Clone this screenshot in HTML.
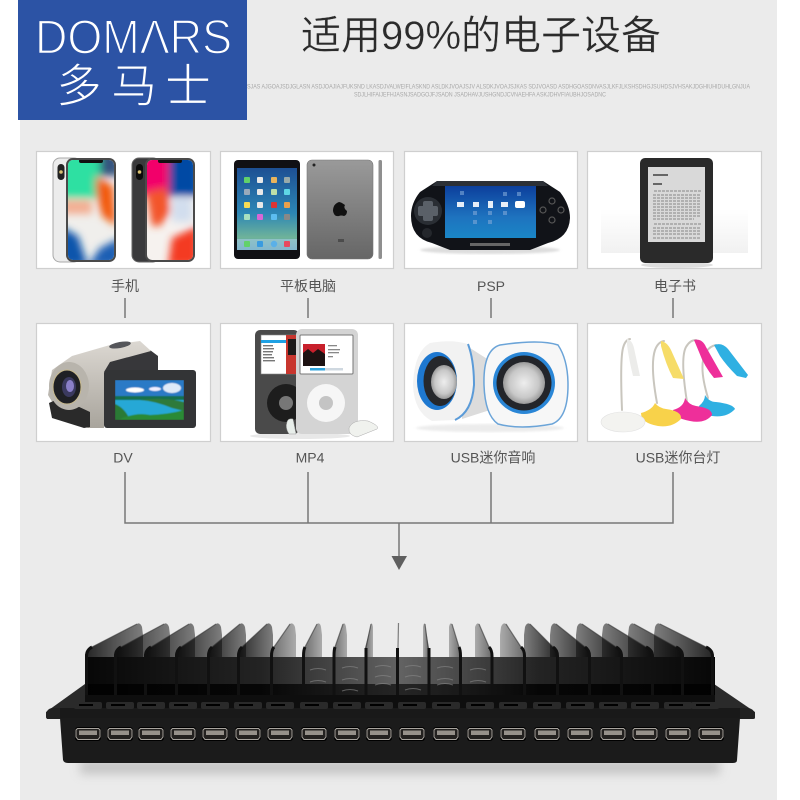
<!DOCTYPE html>
<html><head><meta charset="utf-8"><style>
html,body{margin:0;padding:0;background:#fff}
svg{display:block}
text{font-family:"Liberation Sans","Noto Sans CJK SC",sans-serif}
</style></head><body>
<svg width="800" height="800" viewBox="0 0 800 800" xmlns="http://www.w3.org/2000/svg">
<defs>
<filter id="b3" x="-30%" y="-30%" width="160%" height="160%"><feGaussianBlur stdDeviation="4"/></filter>
<filter id="s4" x="-10%" y="-100%" width="120%" height="300%"><feGaussianBlur stdDeviation="5"/></filter>
<filter id="b1"><feGaussianBlur stdDeviation="1"/></filter>
<filter id="b05"><feGaussianBlur stdDeviation=".5"/></filter>
<linearGradient id="fl" x1="0" y1="0" x2="1" y2="0"><stop offset="0" stop-color="#000" stop-opacity=".85"/><stop offset="1" stop-color="#111" stop-opacity=".5"/></linearGradient>
<linearGradient id="fr" x1="1" y1="0" x2="0" y2="0"><stop offset="0" stop-color="#000" stop-opacity=".85"/><stop offset="1" stop-color="#111" stop-opacity=".5"/></linearGradient>
<linearGradient id="flc" x1="0" y1="0" x2="1" y2="0"><stop offset="0" stop-color="#111" stop-opacity=".6"/><stop offset="1" stop-color="#222" stop-opacity=".32"/></linearGradient>
<linearGradient id="frc" x1="1" y1="0" x2="0" y2="0"><stop offset="0" stop-color="#111" stop-opacity=".6"/><stop offset="1" stop-color="#222" stop-opacity=".32"/></linearGradient>
<linearGradient id="band" x1="0" y1="0" x2="1" y2="0"><stop offset="0" stop-color="#000" stop-opacity=".97"/><stop offset=".28" stop-color="#000" stop-opacity=".85"/><stop offset=".5" stop-color="#222" stop-opacity=".68"/><stop offset=".72" stop-color="#000" stop-opacity=".85"/><stop offset="1" stop-color="#000" stop-opacity=".97"/></linearGradient>
<linearGradient id="gray" x1="0" y1="0" x2="0" y2="1"><stop offset="0" stop-color="#9a9a9a"/><stop offset="1" stop-color="#666"/></linearGradient>
<linearGradient id="blue" x1="0" y1="0" x2="0" y2="1"><stop offset="0" stop-color="#0c3f9c"/><stop offset=".6" stop-color="#1e73bf"/><stop offset="1" stop-color="#1a86c6"/></linearGradient>
<linearGradient id="ipad" x1="0" y1="0" x2="0" y2="1"><stop offset="0" stop-color="#1d4f93"/><stop offset=".55" stop-color="#2c86b5"/><stop offset=".85" stop-color="#6fb39a"/><stop offset="1" stop-color="#3d8db5"/></linearGradient>
<linearGradient id="silver" x1="0" y1="0" x2="0" y2="1"><stop offset="0" stop-color="#dcd8d2"/><stop offset="1" stop-color="#a8a49c"/></linearGradient>
<linearGradient id="kbg" x1="0" y1="0" x2="0" y2="1"><stop offset="0" stop-color="#fff"/><stop offset=".5" stop-color="#fff"/><stop offset="1" stop-color="#f1f1f1"/></linearGradient>
<radialGradient id="cone"><stop offset="0" stop-color="#eee"/><stop offset=".7" stop-color="#c8c8c8"/><stop offset="1" stop-color="#9a9a9a"/></radialGradient>
<clipPath id="s1"><rect x="68" y="160" width="46" height="100" rx="5"/></clipPath>
<clipPath id="s2"><rect x="147" y="160" width="46" height="100" rx="5"/></clipPath>
<clipPath id="dvp"><rect x="115" y="380" width="69" height="40"/></clipPath>
<g id="port">
<rect x="-13" y="-7" width="26" height="14" rx="3" fill="#000"/>
<path d="M-10.500 -5.500H10.500L12 -4V3L10 5.500H-10L-12 3V-4Z" fill="#23211f" stroke="#a8a49e" stroke-width="1"/>
<rect x="-9" y="-3.500" width="18" height="4.500" fill="#96918a"/>
</g>
<g id="notch">
<rect x="-14" y="702" width="28" height="7" rx="2" fill="#2a2a2a"/>
<rect x="-9" y="704" width="14" height="2" fill="#000"/>
</g>
</defs>

<rect width="800" height="800" fill="#fff"/>
<rect x="20" y="0" width="757" height="800" fill="#ebebeb"/>

<!-- logo -->
<rect x="18" y="0" width="229" height="120" fill="#2c53a5"/>
<text x="35" y="53.500" font-size="48.500" fill="#fff" stroke="#2c53a5" stroke-width="1.500" textLength="197" lengthAdjust="spacingAndGlyphs">DOMΛRS</text>
<text y="102" font-size="46" fill="#fff" stroke="#2c53a5" stroke-width="1.100" x="56 111 165">多马士</text>

<!-- title -->
<text x="301" y="49" font-size="40" fill="#2b2b2b" stroke="#ebebeb" stroke-width=".35" textLength="360" lengthAdjust="spacingAndGlyphs">适用99%的电子设备</text>
<text x="247" y="88.500" font-size="6" fill="#a8a8a8" textLength="503" lengthAdjust="spacingAndGlyphs">SJAS AJGOAJSDJGLASN ASDJOAJIAJFUKSND LKASDJVALWEIFLASKND ASLDKJVOAJSJV ALSDKJVOAJSJKAS SDJVOASD ASDHGOASDNVASJLKFJLKSHSDHGJSUHDSJVHSAKJDGHIUHIDUHLGNJUA</text>
<text x="354" y="96.500" font-size="6" fill="#a8a8a8" textLength="252" lengthAdjust="spacingAndGlyphs">SDJLHIFAIJEFHJASNJSADGOJFJSADN JSADHAVJUSHGNDJCVNAEHFA ASKJDHVFIAUBHJOSADNC</text>

<!-- cards -->
<g fill="#fff" stroke="#cfcfcf" stroke-width="1.200">
<rect x="36.500" y="151.500" width="174" height="117"/>
<rect x="220.500" y="151.500" width="173" height="117"/>
<rect x="404.500" y="151.500" width="173" height="117"/>
<rect x="587.500" y="151.500" width="174" height="117"/>
<rect x="36.500" y="323.500" width="174" height="118"/>
<rect x="220.500" y="323.500" width="173" height="118"/>
<rect x="404.500" y="323.500" width="173" height="118"/>
<rect x="587.500" y="323.500" width="174" height="118"/>
</g>

<!-- phones -->
<rect x="53" y="158" width="28" height="104" rx="7" fill="#ececec" stroke="#a8a8a8"/>
<rect x="57.500" y="164" width="7" height="16" rx="3.500" fill="#222"/><circle cx="61" cy="172" r="1.800" fill="#d8c070"/>
<rect x="66" y="158" width="50" height="104" rx="7" fill="#4a4a4a"/>
<g clip-path="url(#s1)"><rect x="68" y="160" width="46" height="100" fill="#f0efec"/>
<g filter="url(#b3)"><rect x="60" y="150" width="40" height="48" fill="#2fe0a2"/><rect x="100" y="150" width="20" height="26" fill="#35557f"/><path d="M96 176L113 186L116 226L102 216L96 192Z" fill="#f25a10"/><path d="M62 200H92V214H62Z" fill="#f3ae92"/><path d="M60 226L78 236L88 266H60Z" fill="#0f55ac"/><path d="M120 238V266H88L100 248Z" fill="#1c5fb4"/></g>
<rect x="79" y="159" width="24" height="4" rx="2" fill="#111"/></g>

<rect x="132" y="158" width="28" height="104" rx="7" fill="#3a3a3c" stroke="#666"/>
<rect x="136" y="164" width="7" height="16" rx="3.500" fill="#0c0c0c"/><circle cx="139.500" cy="172" r="1.800" fill="#d8c070"/>
<rect x="145" y="158" width="50" height="104" rx="7" fill="#4a4a4a"/>
<g clip-path="url(#s2)"><rect x="147" y="160" width="46" height="100" fill="#f6f2ef"/>
<g filter="url(#b3)"><rect x="138" y="150" width="32" height="46" fill="#f2016a"/><rect x="169" y="150" width="30" height="46" fill="#0448a4"/><path d="M146 192L168 188L170 212L160 226L152 226Z" fill="#f3552c"/><path d="M172 238L198 226V266H168Z" fill="#f43a22"/><rect x="172" y="198" width="20" height="24" fill="#d2deee"/></g>
<rect x="158" y="159" width="24" height="4" rx="2" fill="#111"/></g>

<!-- tablets -->
<rect x="234" y="160" width="66" height="99" rx="4" fill="#101014"/>
<rect x="237" y="168" width="60" height="82" fill="url(#ipad)"/>
<g fill="#e8e8e8">
<rect x="244" y="177" width="6" height="6" rx="1" fill="#62d26a"/><rect x="257" y="177" width="6" height="6" rx="1"/><rect x="271" y="177" width="6" height="6" rx="1" fill="#e9b45c"/><rect x="284" y="177" width="6" height="6" rx="1" fill="#9aa"/>
<rect x="244" y="189" width="6" height="6" rx="1" fill="#9ab"/><rect x="257" y="189" width="6" height="6" rx="1"/><rect x="271" y="189" width="6" height="6" rx="1" fill="#bde0a8"/><rect x="284" y="189" width="6" height="6" rx="1" fill="#5ed6e6"/>
<rect x="244" y="202" width="6" height="6" rx="1" fill="#f6dc56"/><rect x="257" y="202" width="6" height="6" rx="1"/><rect x="271" y="202" width="6" height="6" rx="1" fill="#d33"/><rect x="284" y="202" width="6" height="6" rx="1" fill="#e9a04c"/>
<rect x="244" y="214" width="6" height="6" rx="1" fill="#a8e0c0"/><rect x="257" y="214" width="6" height="6" rx="1" fill="#d966d6"/><rect x="271" y="214" width="6" height="6" rx="1" fill="#5cbdf0"/><rect x="284" y="214" width="6" height="6" rx="1" fill="#888"/>
</g>
<rect x="237" y="239" width="60" height="11" fill="#9fc9d8" opacity=".7"/>
<rect x="244" y="241" width="6" height="6" rx="1" fill="#62d26a"/><rect x="257" y="241" width="6" height="6" rx="1" fill="#3a9be0"/><circle cx="274" cy="244" r="3.200" fill="#5ab0e8"/><rect x="284" y="241" width="6" height="6" rx="1" fill="#e84a5f"/>
<rect x="307" y="160" width="66" height="99" rx="5" fill="url(#gray)" stroke="#777" stroke-width=".6"/>
<path d="M339 202Q333 204 333 211Q334 217 339 216Q341 215 344 216Q347 215 347 211Q343 208 345 205Q341 202 339 202Z" fill="#111"/>
<rect x="338" y="239" width="6" height="3" fill="#333" opacity=".6"/>
<circle cx="314" cy="165" r="1.500" fill="#222"/>
<rect x="378.500" y="160" width="3.500" height="99" rx="1.500" fill="#8f8f8f"/>

<!-- PSP -->
<ellipse cx="490" cy="250" rx="70" ry="4" fill="#ddd" filter="url(#b1)"/>
<path d="M437 181H543L560 192Q570 205 570 218Q569 238 548 243L530 250H450L432 243Q411 238 411 216Q411 203 420 192Z" fill="#111318"/>
<path d="M437 181H543L548 186H432Z" fill="#2c3036"/>
<rect x="445" y="186" width="91" height="52" fill="url(#blue)"/>
<g fill="#e6eef8"><rect x="457" y="202" width="7" height="5"/><rect x="473" y="202" width="6" height="5"/><rect x="488" y="201" width="5" height="7"/><rect x="501" y="202" width="7" height="5"/><rect x="515" y="201" width="10" height="7" rx="2" fill="#fff"/></g>
<g fill="#7fa8d8" opacity=".6"><rect x="460" y="191" width="4" height="4"/><rect x="503" y="192" width="4" height="4"/><rect x="517" y="192" width="4" height="4"/><rect x="473" y="211" width="4" height="4"/><rect x="488" y="211" width="4" height="4"/><rect x="503" y="211" width="4" height="4"/><rect x="473" y="220" width="4" height="4"/><rect x="488" y="220" width="4" height="4"/></g>
<circle cx="428" cy="211" r="14" fill="#2a2e34"/>
<rect x="423" y="201" width="10" height="20" rx="2" fill="#5a6068"/><rect x="418" y="206" width="20" height="10" rx="2" fill="#5a6068"/>
<circle cx="427" cy="233" r="5" fill="#24272c"/>
<g fill="none" stroke="#555" stroke-width="1.200"><circle cx="552" cy="201" r="3"/><circle cx="543" cy="210" r="3"/><circle cx="561" cy="210" r="3"/><circle cx="552" cy="220" r="3"/></g>
<rect x="470" y="243" width="40" height="3" fill="#666"/>

<!-- kindle -->
<rect x="601" y="165" width="147" height="88" fill="url(#kbg)"/>
<ellipse cx="677" cy="265" rx="36" ry="3" fill="#ddd"/>
<rect x="640" y="158" width="73" height="105" rx="5" fill="#2a2a2a"/>
<rect x="648" y="167" width="57" height="75" fill="#d9d9d9"/>
<g fill="#666"><rect x="653" y="174" width="15" height="2"/><rect x="653" y="183" width="9" height="2"/></g>
<g stroke="#888" stroke-width="1" stroke-dasharray="3 1">
<path d="M654 191H701M653 195H701M653 198H701M653 201H701M653 204H701M653 207H701M653 210H701M653 213H701M653 216H701M653 219H694M654 224H701M653 228H701M653 231H701M653 234H701M653 238H701"/></g>

<!-- DV -->
<path d="M104 372L110 352L150 350L158 356V372Z" fill="#37373a"/>
<path d="M72 356L110 345L140 341L151 351L110 362L104 372V428H88L60 415L48 395L52 370Z" fill="url(#silver)"/>
<ellipse cx="120" cy="345" rx="11" ry="3" fill="#55565a" transform="rotate(-10 120 345)"/>
<path d="M49 403L52 418L84 428L90 427V412L60 398Z" fill="#2a2a2a"/>
<ellipse cx="69" cy="386" rx="20" ry="24" fill="#b8b4ac"/>
<ellipse cx="67" cy="387" rx="14" ry="17" fill="#1f2024" stroke="#c8b98c" stroke-width="1"/>
<ellipse cx="69" cy="387" rx="7" ry="10" fill="#3b3a5f"/>
<ellipse cx="70" cy="386" rx="4" ry="6" fill="#8a7fc8"/>
<rect x="104" y="370" width="92" height="58" rx="3" fill="#333436"/>
<g clip-path="url(#dvp)"><g filter="url(#b05)">
<rect x="115" y="380" width="69" height="40" fill="#2b7ac6"/>
<ellipse cx="135" cy="390" rx="9" ry="2.500" fill="#fff"/><ellipse cx="155" cy="389" rx="6" ry="2" fill="#eef"/><ellipse cx="172" cy="388" rx="9" ry="5" fill="#dfeaf8"/>
<path d="M115 396H184V401H115Z" fill="#18704e"/>
<path d="M115 400H184V420H115Z" fill="#25a8d6"/>
<path d="M140 400Q165 397 184 402V411L172 408Q155 401 140 400Z" fill="#2f7a3a"/>
<path d="M115 404Q125 408 130 420H115Z" fill="#2a7a34"/>
<path d="M118 420Q135 412 150 415Q170 414 184 410V420Z" fill="#2b8a36"/>
</g></g>

<!-- iPods -->
<ellipse cx="300" cy="436" rx="50" ry="3" fill="#e8e8e8"/>
<rect x="255" y="330" width="44" height="104" rx="5" fill="#4a4a4a"/>
<rect x="261" y="335" width="38" height="39" fill="#fff" stroke="#888" stroke-width=".6"/>
<rect x="261" y="340" width="25" height="3" fill="#1ea1e4"/>
<g fill="#777"><rect x="263" y="345" width="10" height="1.400"/><rect x="263" y="348" width="11" height="1.400"/><rect x="263" y="351" width="10" height="1.400"/><rect x="263" y="354" width="9" height="1.400"/><rect x="263" y="357" width="11" height="1.400"/><rect x="263" y="360" width="12" height="1.400"/></g>
<rect x="286" y="335" width="13" height="39" fill="#c8362e"/><rect x="288" y="339" width="9" height="16" fill="#1d1a1a"/>
<circle cx="286" cy="403" r="19" fill="#1d1d1d"/><circle cx="286" cy="403" r="7" fill="#777"/>
<rect x="296" y="329" width="62" height="105" rx="6" fill="#d4d4d4"/>
<rect x="300" y="335" width="53" height="39" rx="1" fill="#fff" stroke="#777"/>
<rect x="303" y="344" width="22" height="22" fill="#c8202c"/>
<path d="M303 366V353L308 349L313 353L318 349L325 354V366Z" fill="#1d1212"/>
<g fill="#888"><rect x="328" y="345" width="9" height="1.300"/><rect x="328" y="349" width="12" height="1.300"/><rect x="328" y="352" width="11" height="1.300"/><rect x="328" y="356" width="5" height="1.300"/></g>
<rect x="310" y="368" width="33" height="2.500" fill="#cfd8e0"/><rect x="310" y="368" width="15" height="2.500" fill="#2ea3dc"/>
<circle cx="326" cy="403" r="19" fill="#f6f6f6"/><circle cx="326" cy="403" r="7" fill="#c4c4c4"/>
<path d="M287 422Q288 418 293 419L296 434L289 434Q285 428 287 422Z" fill="#e8eeea" stroke="#999" stroke-width=".5"/>
<path d="M349 428Q353 419 368 421Q380 426 377 429L357 437Q348 435 349 428Z" fill="#f0f2ee" stroke="#aaa" stroke-width=".5"/>

<!-- speakers -->
<ellipse cx="490" cy="428" rx="74" ry="4" fill="#ececec" filter="url(#b1)"/>
<path d="M470 348L492 362L490 410L462 419V348Z" fill="#dcdcdc"/>
<path d="M430 343Q452 339 468 344Q474 360 474 385Q472 412 455 420L432 421Q414 412 413 385Q414 352 430 343Z" fill="#f2f2f2"/>
<path d="M468 344Q474 360 474 385Q472 412 455 420" fill="none" stroke="#5b9bd8" stroke-width="2"/>
<ellipse cx="437" cy="381" rx="20" ry="29" fill="#1e78d0"/>
<ellipse cx="440" cy="381" rx="16.500" ry="25" fill="#26282c"/>
<ellipse cx="444" cy="382" rx="13" ry="17" fill="url(#cone)"/>
<path d="M484 385Q483 350 500 345Q540 339 558 345Q568 360 568 385Q568 418 552 424Q520 430 498 424Q485 415 484 385Z" fill="#f7f7f7" stroke="#6ba4d8" stroke-width="1.500"/>
<circle cx="524" cy="383" r="31" fill="#2a86d6"/>
<circle cx="524" cy="383" r="27.500" fill="#23252a"/>
<circle cx="524" cy="383" r="21" fill="url(#cone)"/>

<!-- lamps -->
<g fill="none" stroke-linecap="round" stroke="#c9c6be" stroke-width="2">
<path d="M708 398Q698 365 706 352Q710 346 716 345"/>
<path d="M687 402Q680 358 686 347Q690 340 696 340"/>
<path d="M657 403Q650 365 655 350Q658 342 664 341"/>
<path d="M622 410Q620 360 623 348Q625 340 630 339"/>
</g>
<path d="M714 345Q722 342 728 349L748 375L746 378L737 376Q726 365 720 356Z" fill="#2fb0e2"/>
<path d="M694 340Q702 338 706 347L723 377L714 378Q704 366 699 352Z" fill="#ee2f9a"/>
<path d="M661 341Q667 342 671 350L684 379L673 378Q666 365 661 346Z" fill="#f6dc68"/>
<path d="M627 339Q632 340 634 348L640 376L633 376Q629 360 627 345Z" fill="#ececea"/>
<path d="M705 395Q709 402 716 402Q733 404 735 409Q727 418 712 416Q700 414 699 406Q705 401 705 395Z" fill="#2fb0e2"/>
<path d="M685 398Q689 405 696 406Q712 408 712 415Q705 424 690 421Q673 418 673 410Q684 407 685 398Z" fill="#ee2f9a"/>
<path d="M655 403Q659 408 666 409Q682 411 681 419Q672 428 658 426Q641 423 641 413Q652 410 655 403Z" fill="#f8d24a"/>
<ellipse cx="623" cy="422" rx="22" ry="10" fill="#f3f3f0" stroke="#e2e2e2" stroke-width=".6"/>

<!-- labels -->
<g font-size="14" fill="#555" text-anchor="middle">
<text x="125" y="291">手机</text>
<text x="308" y="291">平板电脑</text>
<text x="491" y="291">PSP</text>
<text x="675" y="291">电子书</text>
<text x="123" y="462.500">DV</text>
<text x="310" y="462.500">MP4</text>
<text x="493" y="462.500">USB迷你音响</text>
<text x="678" y="462.500">USB迷你台灯</text>
</g>

<!-- connectors -->
<g stroke="#777" stroke-width="1.500" fill="none">
<path d="M125 298V318M308 298V318M491 298V318M673 298V318"/>
<path d="M125 472V523H673V472M308 472V523M491 472V523M399 523V556"/>
</g>
<path d="M391.500 556H407L399 570Z" fill="#5f5f5f"/>

<!-- hub shadow -->
<rect x="80" y="760" width="640" height="14" fill="#aaa" opacity=".6" filter="url(#s4)"/>

<!-- base plate back -->
<path d="M46 712L85 684H714L755 712V718Q755 719 752 719H48Q46 719 46 716Z" fill="#2a2a2a"/>

<!-- fins -->
<rect x="85" y="657" width="630" height="40" fill="url(#band)"/>
<path d="M310 670q8 -3 16 0M342 668q8 -3 16 0M375 667q8 -3 16 0M405 667q8 -3 16 0M437 668q8 -3 16 0M470 670q8 -3 16 0M310 682q8 -3 16 0M342 680q8 -3 16 0M375 677q8 -3 16 0M405 677q8 -3 16 0M437 680q8 -3 16 0M470 682q8 -3 16 0M342 691q8 -3 16 0M375 685q8 -3 16 0M405 690q8 -3 16 0M437 685q8 -3 16 0" fill="none" stroke="#8a8a8a" stroke-width="1" opacity=".6"/>
<g fill="url(#fl)">
<path d="M85 657Q85 650 92 647L137 624Q140 622 142 627L143 635V657Z"/>
<path d="M114 657Q114 650 121 647L164 624Q167 622 169 627L170 635V657Z"/>
<path d="M144 657Q144 650 151 647L189 624Q192 622 194 627L195 635V657Z"/>
<path d="M175 657Q175 650 181 647L216 624Q219 622 221 627L222 635V657Z"/>
<path d="M207 657Q207 650 212 647L240 624Q243 622 245 627L246 635V657Z"/>
<path d="M237 657Q237 650 242 647L267 624Q270 622 272 627L273 635V657Z"/>
</g>
<g fill="url(#flc)">
<path d="M270 657Q270 650 274 647L290 624Q293 622 295 627L296 635V657Z"/>
<path d="M303 657Q303 650 305 647L317 624Q320 622 321 627L322 635V657Z"/>
<path d="M333 657Q333 650 335 647L343 624Q345 622 346 627L347 635V657Z"/>
<path d="M365 657V648L371 624Q372 622 373 627V657Z"/>
</g>
<g fill="url(#fr)">
<path d="M713 657Q713 650 706 647L660 624Q657 622 655 627L654 635V657Z"/>
<path d="M683 657Q683 650 676 647L634 624Q631 622 629 627L628 635V657Z"/>
<path d="M653 657Q653 650 646 647L608 624Q605 622 603 627L602 635V657Z"/>
<path d="M622 657Q622 650 616 647L582 624Q579 622 577 627L576 635V657Z"/>
<path d="M590 657Q590 650 585 647L556 624Q553 622 551 627L550 635V657Z"/>
<path d="M558 657Q558 650 553 647L530 624Q527 622 525 627L524 635V657Z"/>
</g>
<g fill="url(#frc)">
<path d="M525 657Q525 650 521 647L506 624Q503 622 501 627L500 635V657Z"/>
<path d="M492 657Q492 650 489 647L479 624Q477 622 475 627V657Z"/>
<path d="M461 657Q461 650 459 647L452 624Q450 622 449 627V657Z"/>
<path d="M429 657V648L425 624Q424 622 423 627V657Z"/>
</g>
<g fill="none" stroke="#333" stroke-width="1.200">
<path d="M92 647L137 624M121 647L164 624M151 647L189 624M181 647L216 624M212 647L240 624M242 647L267 624M274 647L290 624M305 647L317 624M335 647L343 624M366 648L371 624M398 648L398.500 623M428 648L425 624M459 647L452 624M489 647L479 624M521 647L506 624M553 647L530 624M585 647L556 624M616 647L582 624M646 647L608 624M676 647L634 624M706 647L660 624" opacity=".6"/>
</g>
<g fill="none" stroke="#111" stroke-width="3">
<path d="M86.500 696V656Q86.500 650 92 647M115.500 696V656Q115.500 650 121 647M145.500 696V656Q145.500 650 151 647M176.500 696V656Q176.500 650 181 647M208.500 696V656Q208.500 650 212 647M238.500 696V656Q238.500 650 242 647M271.500 696V656Q271.500 650 274 647M303.500 696V656Q303.500 650 305 647M334 696V656Q334 650 335 647M366 696V648M397.500 696V648M429 696V648M460.500 696V656Q460.500 650 459 647M492 696V656Q492 650 489 647M524.500 696V656Q524.500 650 521 647M557.500 696V656Q557.500 650 553 647M589.500 696V656Q589.500 650 585 647M621.500 696V656Q621.500 650 616 647M652.500 696V656Q652.500 650 646 647M682.500 696V656Q682.500 650 676 647M712.500 696V656Q712.500 650 706 647"/>
</g>

<!-- base front -->
<rect x="85" y="695" width="630" height="13" fill="#0e0e0e"/>
<path d="M46 716Q46 709 52 708H748Q755 709 755 716Q755 719 752 719H48Q46 719 46 716Z" fill="#222"/>
<rect x="60" y="708" width="680" height="10" fill="#191919"/>
<path d="M60 718H740L737 760Q737 763 733 763H68Q64 763 63 760Z" fill="#1b1b1b"/>
<g>
<use href="#notch" x="88"/><use href="#notch" x="120"/><use href="#notch" x="151"/><use href="#notch" x="183"/><use href="#notch" x="215"/><use href="#notch" x="248"/><use href="#notch" x="280"/><use href="#notch" x="314"/><use href="#notch" x="347"/><use href="#notch" x="379"/><use href="#notch" x="412"/><use href="#notch" x="446"/><use href="#notch" x="480"/><use href="#notch" x="513"/><use href="#notch" x="547"/><use href="#notch" x="580"/><use href="#notch" x="613"/><use href="#notch" x="645"/><use href="#notch" x="678"/><use href="#notch" x="705"/>
</g>
<g>
<use href="#port" x="88" y="734"/><use href="#port" x="120" y="734"/><use href="#port" x="151" y="734"/><use href="#port" x="183" y="734"/><use href="#port" x="215" y="734"/><use href="#port" x="248" y="734"/><use href="#port" x="280" y="734"/><use href="#port" x="314" y="734"/><use href="#port" x="347" y="734"/><use href="#port" x="379" y="734"/><use href="#port" x="412" y="734"/><use href="#port" x="446" y="734"/><use href="#port" x="480" y="734"/><use href="#port" x="513" y="734"/><use href="#port" x="547" y="734"/><use href="#port" x="580" y="734"/><use href="#port" x="613" y="734"/><use href="#port" x="645" y="734"/><use href="#port" x="678" y="734"/><use href="#port" x="711" y="734"/>
</g>
</svg>
</body></html>
